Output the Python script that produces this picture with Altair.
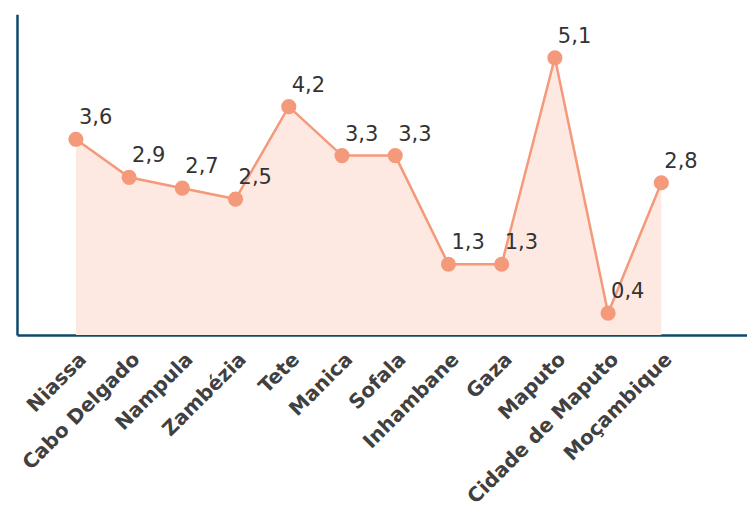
import altair as alt
import pandas as pd

provinces = ["Niassa", "Cabo Delgado", "Nampula", "Zambézia", "Tete", "Manica",
             "Sofala", "Inhambane", "Gaza", "Maputo", "Cidade de Maputo", "Moçambique"]
values = [3.6, 2.9, 2.7, 2.5, 4.2, 3.3, 3.3, 1.3, 1.3, 5.1, 0.4, 2.8]
labels = ["3,6", "2,9", "2,7", "2,5", "4,2", "3,3", "3,3", "1,3", "1,3", "5,1", "0,4", "2,8"]

df = pd.DataFrame({"provincia": provinces, "valor": values, "rotulo": labels,
                   "idx": list(range(len(provinces)))})

names_js = "[" + ",".join("'" + p + "'" for p in provinces) + "]"

W, H = 731, 321
xenc = alt.X("idx:Q", title=None,
             scale=alt.Scale(domain=[-1.107, 12.61], nice=False, zero=False),
             axis=alt.Axis(values=list(range(len(provinces))),
                           labelExpr=names_js + "[datum.value]",
                           labelAngle=-45, labelAlign="right", labelBaseline="middle",
                           labelFont="DejaVu Sans", labelFontSize=20, labelFontWeight="bold",
                           labelColor="#404040", labelPadding=21, labelOffset=7, ticks=False,
                           labelLimit=0,
                           domainColor="#0e4a6e", domainWidth=2.5, grid=False,
                           labelOverlap=False, labelFlush=False, labelBound=False))
yenc = alt.Y("valor:Q", title=None, scale=alt.Scale(domain=[0, 5.9], nice=False),
             axis=alt.Axis(labels=False, ticks=False, grid=False,
                           domainColor="#0e4a6e", domainWidth=2.5))

base = alt.Chart(df)
area = base.mark_area(color="#fde9e2", opacity=1).encode(x=xenc, y=yenc)
line = base.mark_line(color="#f4997a", strokeWidth=2.5).encode(x=xenc, y=yenc)
pts = base.mark_circle(color="#f4997a", size=230, opacity=1).encode(x=xenc, y=yenc)
txt = base.mark_text(align="left", baseline="middle", dx=3, dy=-21,
                     font="DejaVu Sans", fontSize=21, color="#333333").encode(
    x=xenc, y=yenc, text="rotulo:N")

chart = alt.layer(area, line, pts, txt).properties(
    width=W, height=H,
    autosize=alt.AutoSizeParams(type="none"),
    padding={"left": 9, "top": 6, "right": 0, "bottom": 175}
).configure_view(strokeWidth=0)

chart.save("out.html", embed_options={"renderer": "svg", "actions": False})
